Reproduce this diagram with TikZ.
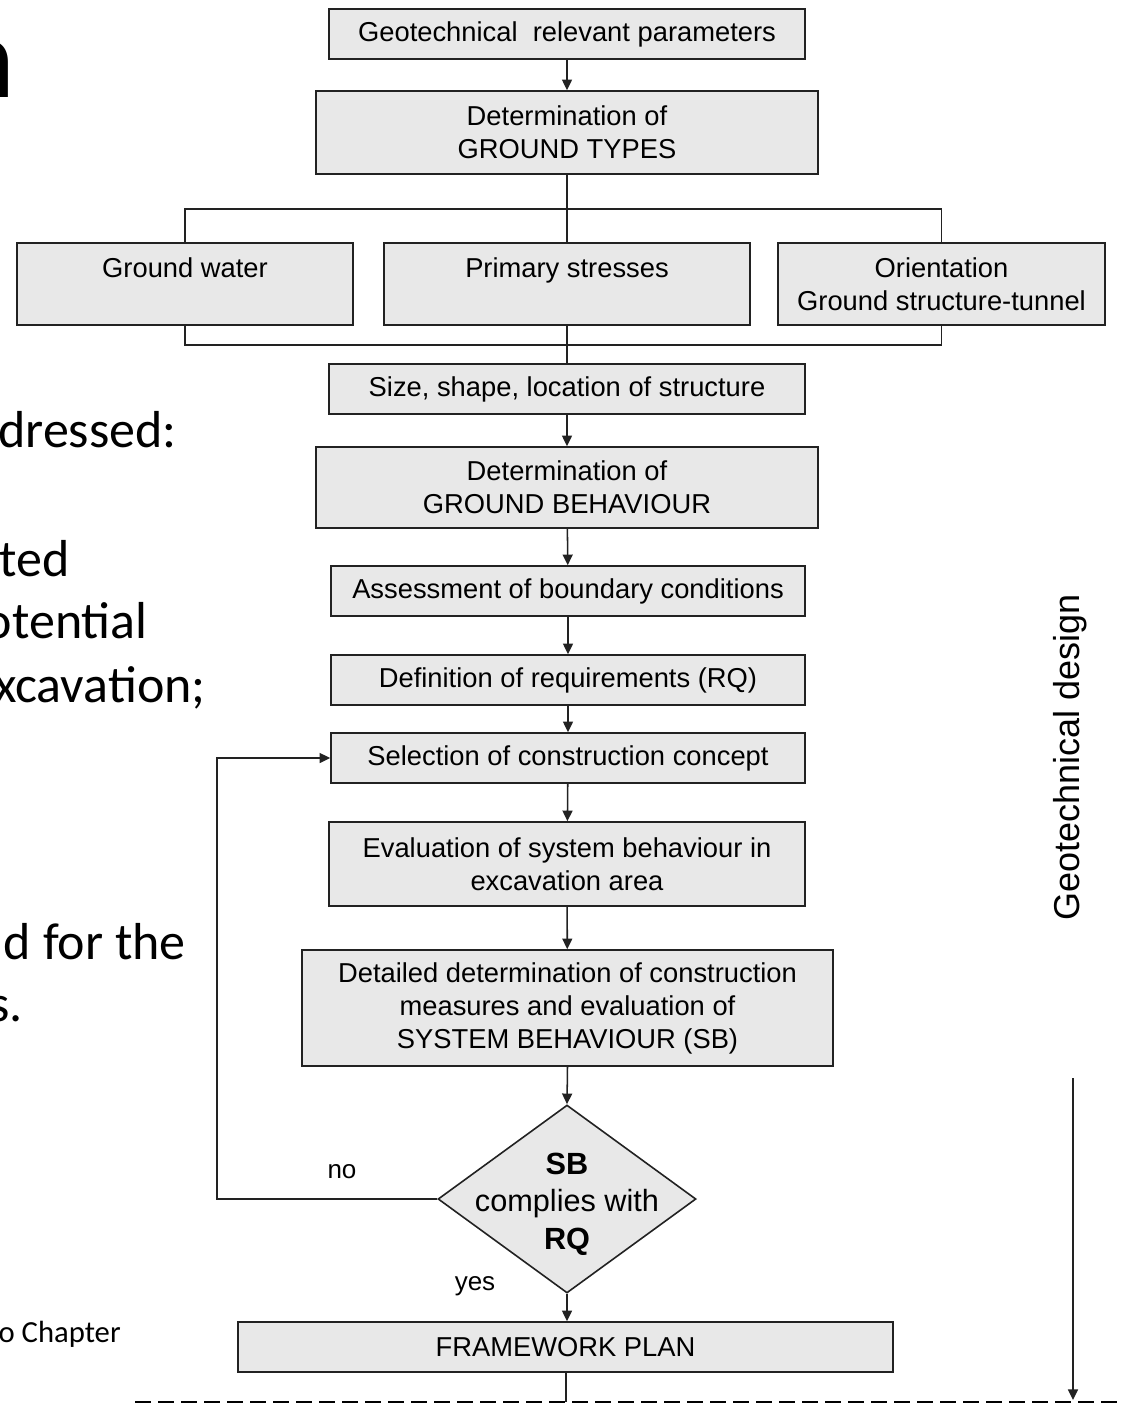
\documentclass[tikz,border=0pt]{standalone}
\usepackage{fontspec}
\setmainfont{Liberation Sans}
\newfontfamily\slidefont{Carlito}
\usetikzlibrary{shapes.geometric,arrows.meta}
\definecolor{boxfill}{HTML}{E8E8E8}
\definecolor{boxline}{HTML}{222222}
\begin{document}
\begin{tikzpicture}[x=0.75pt,y=-0.75pt,
  box/.style={draw=boxline, line width=1.2pt, fill=boxfill, inner sep=0pt, align=center,
              font=\fontsize{20.5}{24.75}\selectfont},
  wh/.style 2 args={minimum width=#1*0.75pt, minimum height=#2*0.75pt},
  conn/.style={draw=boxline, line width=1.15pt},
  arr/.style={conn, -{Triangle[length=8pt,width=7.5pt]}},
  slide/.style={inner sep=0pt, anchor=base east, font=\slidefont\fontsize{39}{46}\selectfont},
  lbl/.style={inner sep=0pt, font=\fontsize{19.5}{23}\selectfont}
]
\useasboundingbox (0,0) rectangle (1121,1404);

% clipped slide text on the left
\node[slide] (s1) at (16,97) {\fontsize{87}{100}\selectfont n};
\node[slide] (s2) at (177,447) {dressed:};
\node[slide] (s3) at (70,576) {ted};
\node[slide] (s4) at (148,638) {otential};
\node[slide] (s5) at (206,702) {xcavation;};
\node[slide] (s6) at (186,959) {d for the};
\node[slide] (s7) at (23,1021) {s.};
\node[slide, font=\slidefont\fontsize{23}{28}\selectfont] (s8) at (121,1342) {o Chapter};

% boxes
\node[box, wh={476}{50}] (b1) at (567,34) {Geotechnical~ relevant parameters};
\node[box, wh={502}{83}] (b2) at (567,132.5) {Determination of\\GROUND TYPES};
\node[box, wh={336}{82}] (gw) at (185,284) {Ground water\\\mbox{}};
\node[box, wh={366}{82}] (ps) at (567,284) {Primary stresses\\\mbox{}};
\node[box, wh={327}{82}] (or) at (941.5,284) {Orientation\\Ground structure-tunnel};
\node[box, wh={476}{50}] (b6) at (567,389) {Size, shape, location of structure};
\node[box, wh={502}{81}] (b7) at (567,487.5) {Determination of\\GROUND BEHAVIOUR};
\node[box, wh={474}{50}] (b8) at (568,591) {Assessment of boundary conditions};
\node[box, wh={474}{50}] (b9) at (568,680) {Definition of requirements (RQ)};
\node[box, wh={474}{50}] (b10) at (568,758) {Selection of construction concept};
\node[box, wh={476}{84}] (b11) at (567,864) {Evaluation of system behaviour in\\excavation area};
\node[box, wh={531}{116}] (b12) at (567.5,1008) {Detailed determination of construction\\measures and evaluation of\\SYSTEM BEHAVIOUR (SB)};
\node[draw=boxline, fill=boxfill, line width=1.2pt, diamond, aspect=1.372,
      minimum width=258*0.75pt, minimum height=188*0.75pt, inner sep=0pt] (dia) at (567,1199) {};
\node[align=center, inner sep=0pt, font=\fontsize{23}{28}\selectfont] (diat) at (567,1204)
      {\textbf{SB}\\complies with\\\textbf{RQ}};
\node[box, wh={655}{50}] (fw) at (565.5,1347) {FRAMEWORK PLAN};

% labels
\node[lbl] (no) at (342,1172) {no};
\node[lbl] (yes) at (475,1286) {yes};
\node[rotate=90, inner sep=0pt, font=\fontsize{27}{32}\selectfont] (gd) at (1070,757) {Geotechnical design};

% connectors
\coordinate (jt) at (567,209);
\coordinate (jb) at (567,345);
\draw[arr] (b1) -- (b2);
\draw[conn] (b2.south) -- (ps.north);
\draw[conn] (gw.north) -- (gw.north |- jt) -- (or.north |- jt) -- (or.north);
\draw[conn] (gw.south) -- (gw.south |- jb) -- (or.south |- jb) -- (or.south);
\draw[conn] (ps.south) -- (b6.north);
\draw[arr] (b6) -- (b7);
\draw[arr] (b7) -- (b8);
\draw[arr] (b8) -- (b9);
\draw[arr] (b9) -- (b10);
\draw[arr] (b10) -- (b11);
\draw[arr] (b11) -- (b12);
\draw[arr] (b12.south) -- (dia.north);
\draw[arr] (dia.south) -- (dia.south |- fw.north);
\coordinate (lp) at (217,1199);
\draw[arr] (dia.west) -- (lp) |- (b10.west);

% bottom dashed line and right arrow
\coordinate (dl) at (566,1402);
\draw[conn] (fw.south -| dl) -- (dl);
\coordinate (dsL) at (135,1402);
\coordinate (dsR) at (1121,1402);
\draw[line width=2.2pt, dash pattern=on 12pt off 5.25pt] (dsL) -- (dsR);
\coordinate (ra1) at (1073,1078);
\coordinate (ra2) at (1073,1400);
\draw[arr] (ra1) -- (ra2);
\end{tikzpicture}
\end{document}
